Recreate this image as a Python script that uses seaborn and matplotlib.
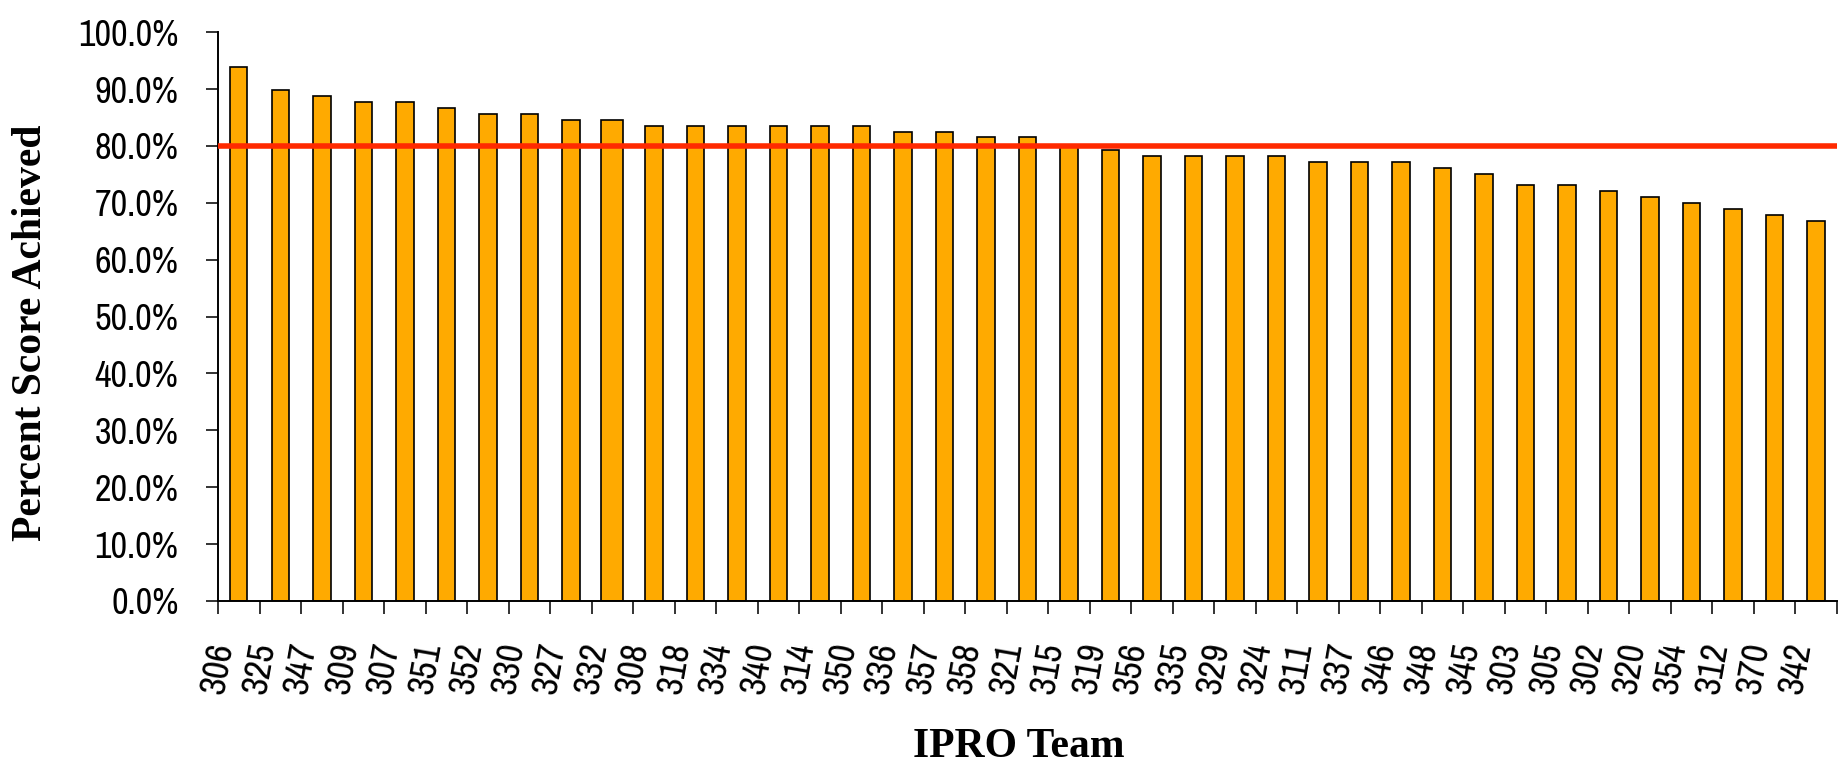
import matplotlib
matplotlib.use("Agg")
import matplotlib.pyplot as plt
import matplotlib.ticker as mticker
import seaborn as sns
import pandas as pd
import numpy as np

# team numbers in plotted order and their score fraction
teams = ["306", "325", "347", "309", "307", "351", "352", "330", "327", "332",
         "308", "318", "334", "340", "314", "350", "336", "357", "358", "321",
         "315", "319", "356", "335", "329", "324", "311", "337", "346", "348",
         "345", "303", "305", "302", "320", "354", "312", "370", "342"]
scores = [0.939, 0.898, 0.887, 0.877, 0.877, 0.867, 0.856, 0.856, 0.846, 0.846,
          0.835, 0.835, 0.835, 0.835, 0.835, 0.835, 0.825, 0.825, 0.815, 0.815,
          0.800, 0.792, 0.782, 0.782, 0.782, 0.782, 0.772, 0.772, 0.772, 0.762,
          0.751, 0.731, 0.731, 0.721, 0.710, 0.700, 0.689, 0.679, 0.668]
target = 0.80

df = pd.DataFrame({"team": teams, "score": scores})

sns.set_style("white")
narrow = ["Liberation Sans Narrow", "Archivo Narrow", "Liberation Sans", "DejaVu Sans"]
plt.rcParams["font.family"] = narrow
plt.rcParams["text.color"] = "black"
plt.rcParams["xtick.color"] = "black"
plt.rcParams["ytick.color"] = "black"

fig = plt.figure(figsize=(18.43, 7.66), dpi=100)
ax = fig.add_axes([0.1183, 0.2155, 0.8784, 0.7425])

sns.barplot(data=df, x="team", y="score", order=teams, color="#FFAA00",
            saturation=1, width=0.42, edgecolor="black", linewidth=1.2, ax=ax)

# the 332 bar is drawn a bit wider in the original
p = ax.patches[teams.index("332")]
cx = p.get_x() + p.get_width() / 2
p.set_width(0.53)
p.set_x(cx - 0.265)

ax.axhline(target, color="#FF2A00", linewidth=4.0, zorder=5)

ax.set_ylim(0, 1.0)
ax.set_xlim(-0.5, len(teams) - 0.5)
ax.set_yticks(np.arange(0, 1.01, 0.1))
ax.yaxis.set_major_formatter(mticker.PercentFormatter(1.0, decimals=1))

ax.set_xticks(np.arange(-0.5, len(teams), 1.0), minor=True)
ax.tick_params(axis="x", which="major", bottom=True, length=0, pad=28,
               labelsize=27, labelcolor="black")
ax.tick_params(axis="x", which="minor", bottom=True, length=9, width=1.4,
               color="#333333", direction="out")
ax.tick_params(axis="y", which="major", left=True, length=8.5, width=1.4,
               color="#333333", direction="out", pad=20, labelsize=26,
               labelcolor="black")
for lab in ax.get_xticklabels():
    lab.set_rotation(80)
    lab.set_ha("right")

ax.set_xlabel("")
ax.set_ylabel("")
for s in ["top", "right"]:
    ax.spines[s].set_visible(False)
for s in ["left", "bottom"]:
    ax.spines[s].set_color("black")
    ax.spines[s].set_linewidth(1.4)

fig.text(31 / 1843, 0.565, "Percent Score Achieved", rotation=90,
         ha="center", va="center", fontsize=30, fontweight="bold",
         family="Liberation Serif", color="black")
fig.text(1019 / 1843, 0.025, "IPRO Team", ha="center", va="center",
         fontsize=30, fontweight="bold", family="Liberation Serif",
         color="black")

fig.savefig("out.png", dpi=100)
